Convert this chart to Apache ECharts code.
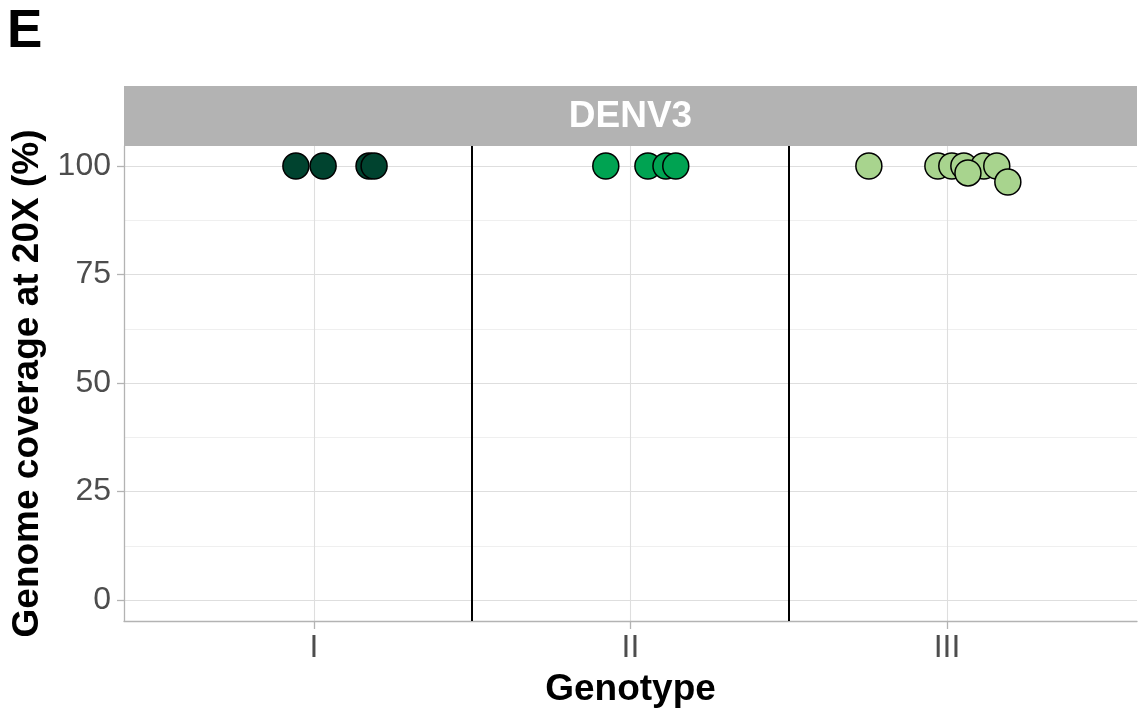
<!DOCTYPE html>
<html>
<head>
<meta charset="utf-8">
<script src="https://cdn.jsdelivr.net/npm/echarts@6/dist/echarts.min.js"></script>
<style>
  html, body { margin: 0; padding: 0; background: #fff; }
  #chart { width: 1138px; height: 713px; }
</style>
</head>
<body>
<div id="chart"></div>
<script>
// genotype categories, placed at x = 1, 2, 3
const genotypes = ["I", "II", "III"];
const yTicks = [0, 25, 50, 75, 100];
const yMinor = [12.5, 37.5, 62.5, 87.5];
const separators = [1.5, 2.5];

// jittered x positions and coverage (%)
const genoIx = [0.943, 1.029, 1.174, 1.19];
const genoIy = [100, 100, 100, 100];
const genoIIx = [1.922, 2.055, 2.112, 2.143];
const genoIIy = [100, 100, 100, 100];
const genoIIIx = [2.753, 2.971, 3.015, 3.053, 3.116, 3.157, 3.066, 3.192];
const genoIIIy = [100, 100, 100, 100, 100, 100, 98.4, 96.3];

const colors = ["#00432F", "#00A352", "#A8D48E"];
const font = "Liberation Sans";

const pairs = (xs, ys) => xs.map((x, i) => [x, ys[i]]);

const chart = echarts.init(document.getElementById("chart"));

const mkSeries = (name, data, color) => ({
  name: name,
  type: "scatter",
  data: data,
  symbolSize: 26,
  itemStyle: { color: color, borderColor: "#000", borderWidth: 1.5, opacity: 1 },
  z: 5,
});

const option = {
  backgroundColor: "#fff",
  animation: false,
  grid: { left: 124, right: 1, top: 146, bottom: 90, show: false },
  xAxis: {
    type: "value",
    min: 0.4,
    max: 3.6,
    name: "Genotype",
    nameLocation: "middle",
    nameGap: 50,
    nameTextStyle: { fontFamily: font, fontSize: 37, fontWeight: "bold", color: "#000" },
    axisLine: { show: true, onZero: false, lineStyle: { color: "#b3b3b3", width: 1.3 } },
    axisTick: { show: true, length: 8, customValues: [1, 2, 3], lineStyle: { color: "#b3b3b3", width: 1.3 } },
    axisLabel: {
      customValues: [1, 2, 3],
      formatter: (v) => genotypes[Math.round(v) - 1],
      fontFamily: font, fontSize: 32, color: "#4d4d4d", margin: 11,
    },
    splitLine: { show: true, lineStyle: { color: "#dedede", width: 1.1 } },
  },
  yAxis: [
    {
      type: "value",
      min: -4.8,
      max: 104.6,
      name: "Genome coverage at 20X (%)",
      nameLocation: "middle",
      nameGap: 76,
      nameTextStyle: { fontFamily: font, fontSize: 37, fontWeight: "bold", color: "#000" },
      axisLine: { show: true, lineStyle: { color: "#b3b3b3", width: 1.3 } },
      axisTick: { show: true, length: 7, customValues: yTicks, lineStyle: { color: "#b3b3b3", width: 1.3 } },
      axisLabel: { customValues: yTicks, fontFamily: font, fontSize: 32, color: "#4d4d4d", margin: 13 },
      splitLine: { show: true, lineStyle: { color: "#dedede", width: 1.1 } },
    },
    {
      type: "value",
      min: -4.8,
      max: 104.6,
      position: "left",
      axisLine: { show: false },
      axisTick: { show: false, customValues: yMinor },
      axisLabel: { show: false, customValues: yMinor },
      splitLine: { show: true, lineStyle: { color: "#ebebeb", width: 0.8 } },
    },
  ],
  series: [
    Object.assign(mkSeries("I", pairs(genoIx, genoIy), colors[0]), {
      markLine: {
        silent: true,
        symbol: "none",
        label: { show: false },
        lineStyle: { color: "#000", width: 2, type: "solid" },
        data: separators.map((v) => ({ xAxis: v })),
      },
    }),
    mkSeries("II", pairs(genoIIx, genoIIy), colors[1]),
    mkSeries("III", pairs(genoIIIx, genoIIIy), colors[2]),
  ],
  graphic: [
    {
      type: "text",
      left: 7,
      top: 6,
      style: { text: "E", fontFamily: font, fontSize: 53, fontWeight: "bold", fill: "#000" },
    },
    {
      type: "rect",
      shape: { x: 124, y: 86, width: 1013, height: 60 },
      style: { fill: "#b3b3b3" },
    },
    {
      type: "text",
      x: 630.5,
      y: 117,
      style: {
        text: "DENV3", fontFamily: font, fontSize: 37, fontWeight: "bold", fill: "#fff",
        align: "center", verticalAlign: "middle",
      },
    },
  ],
};

chart.setOption(option);
</script>
</body>
</html>
